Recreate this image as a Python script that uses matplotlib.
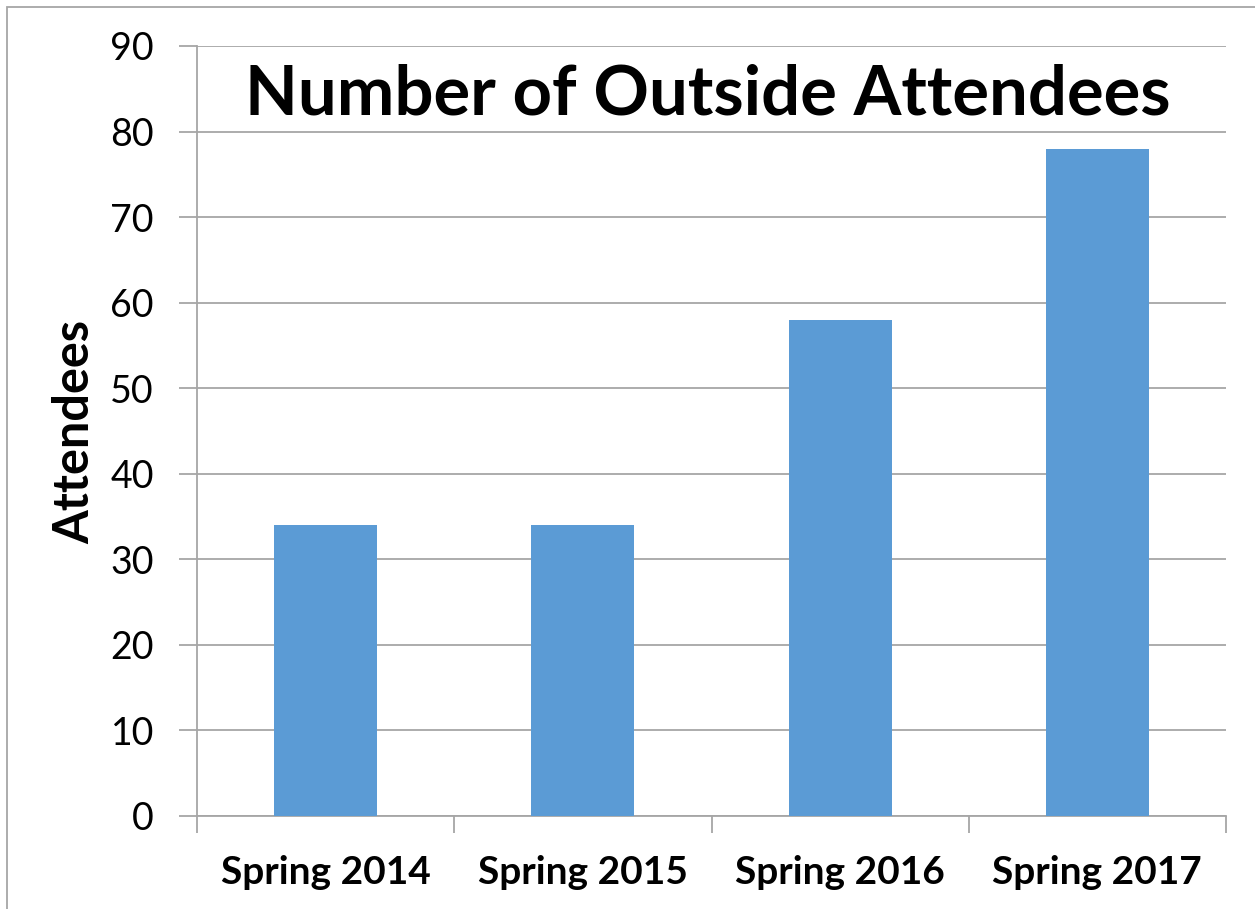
import matplotlib.pyplot as plt
from matplotlib.patches import Rectangle

categories = ["Spring 2014", "Spring 2015", "Spring 2016", "Spring 2017"]
attendees = [34, 34, 58, 78]
yticks = [0, 10, 20, 30, 40, 50, 60, 70, 80, 90]

W, H = 1255, 909
fig = plt.figure(figsize=(W / 100, H / 100), dpi=100)
fam = ["Lato", "DejaVu Sans"]

ax = fig.add_axes([197 / W, 1 - 816 / H, (1226 - 197) / W, (816 - 46) / H])
x = list(range(len(categories)))
ax.bar(x, attendees, width=0.4, color="#5B9BD5", zorder=3)
ax.set_xlim(-0.5, len(categories) - 0.5)
ax.set_ylim(0, 90)
ax.set_yticks(yticks)
ax.set_yticklabels([str(v) for v in yticks], fontsize=27, family=fam)
ax.grid(axis="y", color="#a6a6a6", linewidth=1.3, zorder=0)
ax.tick_params(axis="y", length=13, width=1.3, color="#a6a6a6", pad=18)

ax.set_xticks([i - 0.5 for i in range(len(categories) + 1)], minor=False)
ax.set_xticklabels([])
ax.tick_params(axis="x", which="major", length=12, width=1.3, color="#a6a6a6", direction="out")
ax.set_xticks(x, minor=True)
ax.set_xticklabels(categories, minor=True, fontsize=28, fontweight="bold", family=fam)
ax.tick_params(axis="x", which="minor", length=0, pad=28)

for s in ["top", "right"]:
    ax.spines[s].set_visible(False)
for s in ["left", "bottom"]:
    ax.spines[s].set_color("#a6a6a6")
    ax.spines[s].set_linewidth(1.3)

ax.set_ylabel("Attendees", fontsize=35, fontweight="bold", family=fam)
ax.yaxis.set_label_coords((75 - 197) / (1226 - 197), (816 - 432) / (816 - 46))
ax.yaxis.label.set_va("center")
fig.text((247 + 1168) / 2 / W, 1 - 95 / H, "Number of Outside Attendees", ha="center", va="center",
         fontsize=49.5, fontweight="bold", family=fam)

fig.patches.append(Rectangle((7 / W, -0.01), 1.02, 1 - 7 / H + 0.01, transform=fig.transFigure,
                             fill=False, edgecolor="#a6a6a6", linewidth=1.3))

fig.savefig("out.png", dpi=100)
